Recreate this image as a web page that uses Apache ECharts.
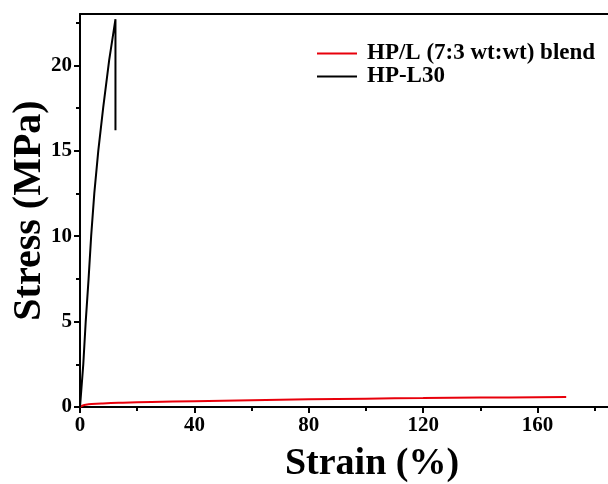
<!DOCTYPE html>
<html>
<head>
<meta charset="utf-8">
<script src="https://cdn.jsdelivr.net/npm/echarts@6/dist/echarts.min.js"></script>
<style>html,body{margin:0;padding:0;background:#fff;}#c{width:608px;height:484px;}</style>
</head>
<body>
<div id="c"></div>
<script>
const blendStrain = [0, 0.5, 1, 2, 4, 8, 15, 25, 40, 60, 80, 100, 120, 140, 160, 170];
const blendStress = [0, 0.05, 0.09, 0.13, 0.17, 0.21, 0.25, 0.29, 0.34, 0.40, 0.45, 0.49, 0.52, 0.55, 0.57, 0.58];
const l30Strain = [0, 1.15, 2.0, 3.0, 3.9, 5.0, 6.4, 8.1, 10.2, 11.4, 12.4, 12.4];
const l30Stress = [0, 2.5, 5, 7.5, 10, 12.5, 15, 17.5, 20.3, 21.6, 22.7, 16.2];
const xTicks = [0, 40, 80, 120, 160, 200];
const xMinorTicks = [20, 60, 100, 140, 180];
const yTicks = [0, 5, 10, 15, 20];
const yMinorTicks = [2.5, 7.5, 12.5, 17.5, 22.5];
const seriesNames = ['HP/L (7:3 wt:wt) blend', 'HP-L30'];

const font = 'Liberation Serif';
const pairs = (xs, ys) => xs.map((x, i) => [x, ys[i]]);
const chart = echarts.init(document.getElementById('c'));
chart.setOption({
  animation: false,
  backgroundColor: '#fff',
  grid: { left: 80, top: 14, width: 572, height: 393, containLabel: false, outerBoundsMode: 'none' },
  legend: {
    orient: 'vertical', left: 317, top: 42, padding: 0, itemWidth: 40, itemHeight: 2, itemGap: 0,
    icon: 'rect',
    textStyle: { fontFamily: font, fontWeight: 'bold', fontSize: 23, color: '#000', padding: [0,0,0,5] },
    data: seriesNames
  },
  xAxis: [{
    type: 'value', min: 0, max: 200, position: 'bottom',
    name: 'Strain (%)', nameLocation: 'middle', nameGap: 38,
    nameTextStyle: { fontFamily: font, fontWeight: 'bold', fontSize: 38, color: '#000', padding: [0,0,0,12] },
    axisLine: { show: true, onZero: false, lineStyle: { color: '#000', width: 2 } },
    axisTick: { show: true, length: 6, lineStyle: { color: '#000', width: 2 }, customValues: xTicks },
    axisLabel: { fontFamily: font, fontWeight: 'bold', fontSize: 21, color: '#000', margin: 8, customValues: xTicks.slice(0, 5) },
    splitLine: { show: false }
  }, {
    type: 'value', min: 0, max: 200, position: 'bottom',
    axisLine: { show: false, onZero: false },
    axisTick: { show: true, length: 4, lineStyle: { color: '#000', width: 2 }, customValues: xMinorTicks },
    axisLabel: { show: false }, splitLine: { show: false }
  }, {
    type: 'value', min: 0, max: 200, position: 'top',
    axisLine: { show: true, onZero: false, lineStyle: { color: '#000', width: 2 } },
    axisTick: { show: false }, axisLabel: { show: false }, splitLine: { show: false }
  }],
  yAxis: [{
    type: 'value', min: 0, max: 23, position: 'left',
    name: 'Stress (MPa)', nameLocation: 'middle', nameGap: 30, nameMoveOverlap: false,
    nameTextStyle: { fontFamily: font, fontWeight: 'bold', fontSize: 40, color: '#000' },
    axisLine: { show: true, onZero: false, lineStyle: { color: '#000', width: 2 } },
    axisTick: { show: true, length: 6, lineStyle: { color: '#000', width: 2 }, customValues: yTicks },
    axisLabel: { fontFamily: font, fontWeight: 'bold', fontSize: 21, color: '#000', margin: 8, customValues: yTicks },
    splitLine: { show: false }
  }, {
    type: 'value', min: 0, max: 23, position: 'left',
    axisLine: { show: false, onZero: false },
    axisTick: { show: true, length: 4, lineStyle: { color: '#000', width: 2 }, customValues: yMinorTicks },
    axisLabel: { show: false }, splitLine: { show: false }
  }],
  series: [{
    name: seriesNames[0], type: 'line', xAxisIndex: 0, yAxisIndex: 0,
    data: pairs(blendStrain, blendStress), smooth: true, showSymbol: false,
    lineStyle: { color: '#e8000b', width: 2 }, itemStyle: { color: '#e8000b' }
  }, {
    name: seriesNames[1], type: 'line', xAxisIndex: 0, yAxisIndex: 0,
    data: pairs(l30Strain, l30Stress), smooth: false, showSymbol: false,
    lineStyle: { color: '#000', width: 2 }, itemStyle: { color: '#000' }
  }]
});
</script>
</body>
</html>
